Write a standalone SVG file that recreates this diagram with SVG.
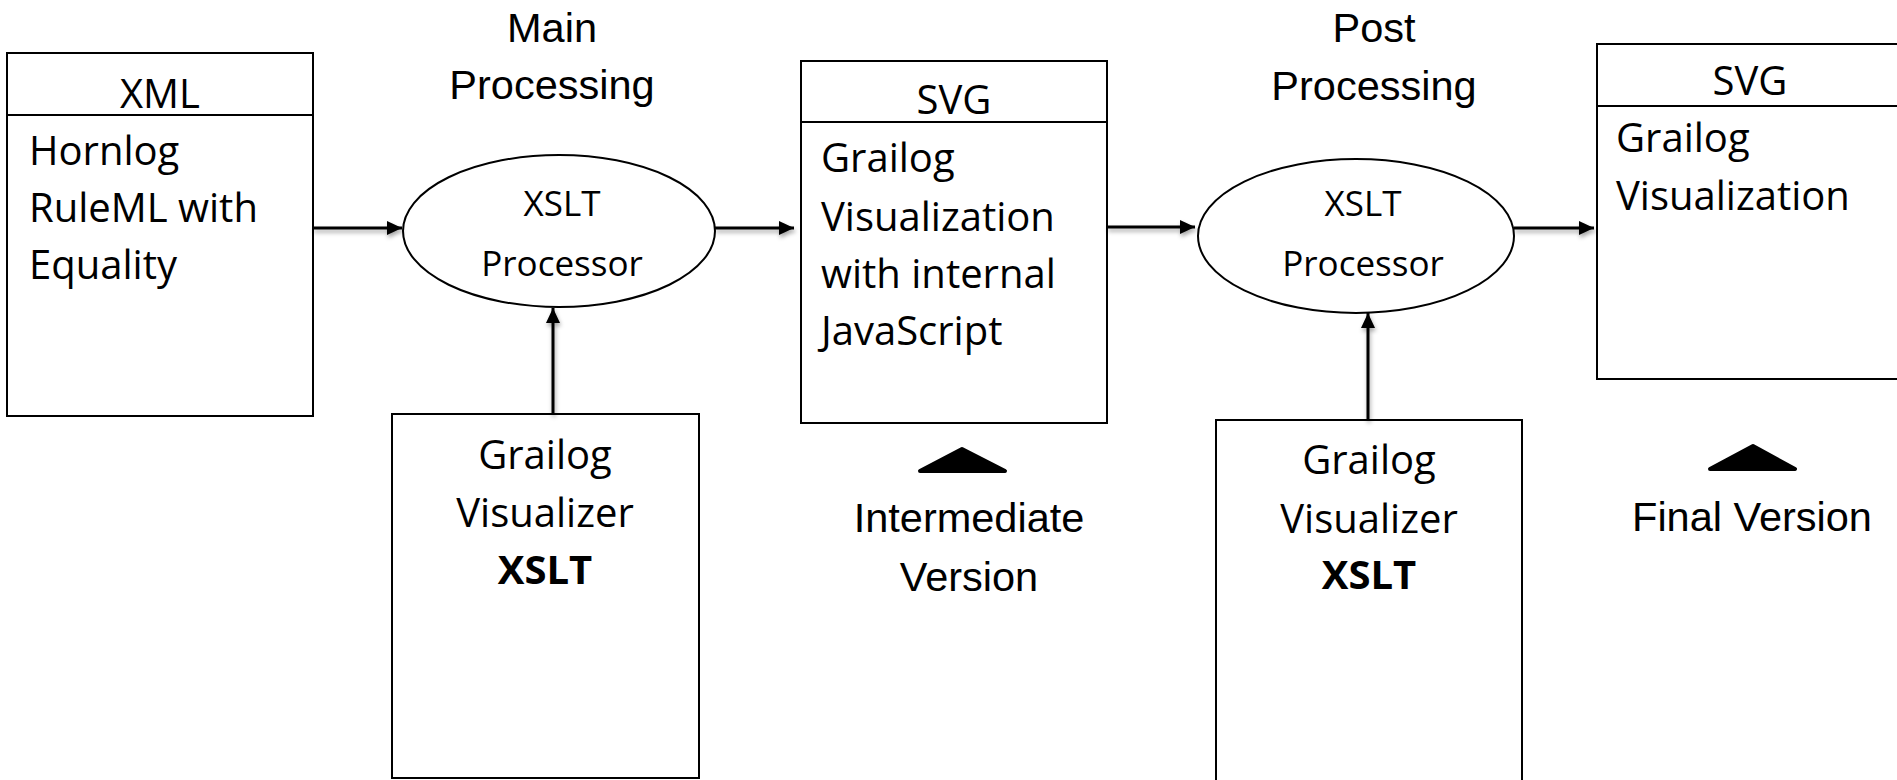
<svg xmlns="http://www.w3.org/2000/svg" width="1897" height="780" viewBox="0 0 1897 780">
  <defs>
    <style>
      .box { fill: #ffffff; stroke: #000000; stroke-width: 2; }
      .proc { fill: #ffffff; stroke: #000000; stroke-width: 2; }
      .body { font-family: "Open Sans", "Noto Sans", sans-serif; font-size: 40px; fill: #000000; }
      .proc-text { font-family: "Open Sans", "Noto Sans", sans-serif; font-size: 35px; fill: #000000; text-anchor: middle; }
      .label { font-family: "Liberation Sans", Arial, sans-serif; font-size: 41.5px; fill: #000000; text-anchor: middle; }
      .mid { text-anchor: middle; }
      .bold { font-weight: bold; }
      .flow { stroke: #000000; stroke-width: 3; fill: none; marker-end: url(#head); }
      .marker-tri { fill: #000000; stroke: #000000; stroke-width: 4; stroke-linejoin: round; }
    </style>
    <marker id="head" markerUnits="userSpaceOnUse" markerWidth="16" markerHeight="14" refX="15" refY="7" orient="auto">
      <path d="M0,0 L15,7 L0,14 Z" fill="#000000"/>
    </marker>
    <filter id="soft-shadow" x="-10%" y="-50%" width="120%" height="200%">
      <feDropShadow dx="1" dy="3" stdDeviation="2" flood-color="#000000" flood-opacity="0.35"/>
    </filter>
  </defs>

  <rect width="1897" height="780" fill="#ffffff"/>

  <!-- stage captions -->
  <g id="caption-main">
    <text class="label" x="552" y="42">Main</text>
    <text class="label" x="552" y="99">Processing</text>
  </g>
  <g id="caption-post">
    <text class="label" x="1374" y="42">Post</text>
    <text class="label" x="1374" y="100">Processing</text>
  </g>

  <!-- input document -->
  <g id="xml-input">
    <rect class="box" x="7" y="53" width="306" height="363"/>
    <line x1="7" y1="115" x2="313" y2="115" stroke="#000000" stroke-width="2"/>
    <text class="body mid" x="160" y="108">XML</text>
    <text class="body" x="29" y="165">Hornlog</text>
    <text class="body" x="29" y="222">RuleML with</text>
    <text class="body" x="29" y="279">Equality</text>
  </g>

  <!-- first XSLT run -->
  <g id="xslt-processor-main">
    <ellipse class="proc" cx="559" cy="231" rx="156" ry="76"/>
    <text class="proc-text" x="562" y="216">XSLT</text>
    <text class="proc-text" x="562" y="276">Processor</text>
  </g>

  <g id="visualizer-main">
    <rect class="box" x="392" y="414" width="307" height="364"/>
    <text class="body mid" x="545" y="469">Grailog</text>
    <text class="body mid" x="545" y="527">Visualizer</text>
    <text class="body mid bold" x="545" y="584">XSLT</text>
  </g>

  <!-- intermediate SVG -->
  <g id="svg-intermediate">
    <rect class="box" x="801" y="61" width="306" height="362"/>
    <line x1="801" y1="122" x2="1107" y2="122" stroke="#000000" stroke-width="2"/>
    <text class="body mid" x="954" y="114">SVG</text>
    <text class="body" x="821" y="172">Grailog</text>
    <text class="body" x="821" y="231">Visualization</text>
    <text class="body" x="821" y="288">with internal</text>
    <text class="body" x="821" y="345">JavaScript</text>
  </g>

  <g id="intermediate-version">
    <polygon class="marker-tri" points="962,449 1005,471 920,471"/>
    <text class="label" x="969" y="532">Intermediate</text>
    <text class="label" x="969" y="591">Version</text>
  </g>

  <!-- second XSLT run -->
  <g id="xslt-processor-post">
    <ellipse class="proc" cx="1356" cy="236" rx="158" ry="77"/>
    <text class="proc-text" x="1363" y="216">XSLT</text>
    <text class="proc-text" x="1363" y="276">Processor</text>
  </g>

  <g id="visualizer-post">
    <path class="box" d="M1216,781 V420 H1522 V781"/>
    <text class="body mid" x="1369" y="474">Grailog</text>
    <text class="body mid" x="1369" y="533">Visualizer</text>
    <text class="body mid bold" x="1369" y="589">XSLT</text>
  </g>

  <!-- final SVG -->
  <g id="svg-final">
    <rect class="box" x="1597" y="44" width="306" height="335"/>
    <line x1="1597" y1="106" x2="1903" y2="106" stroke="#000000" stroke-width="2"/>
    <text class="body mid" x="1750" y="95">SVG</text>
    <text class="body" x="1616" y="152">Grailog</text>
    <text class="body" x="1616" y="210">Visualization</text>
  </g>

  <g id="final-version">
    <polygon class="marker-tri" points="1753,446 1795,469 1710,469"/>
    <text class="label" x="1752" y="531">Final Version</text>
  </g>

  <!-- data flow -->
  <g id="connectors" filter="url(#soft-shadow)">
    <path class="flow" d="M313,228 H402"/>
    <path class="flow" d="M715,228 H794"/>
    <path class="flow" d="M553,414 V308"/>
    <path class="flow" d="M1107,227 H1195"/>
    <path class="flow" d="M1514,228 H1594"/>
    <path class="flow" d="M1368,420 V313"/>
  </g>
</svg>
